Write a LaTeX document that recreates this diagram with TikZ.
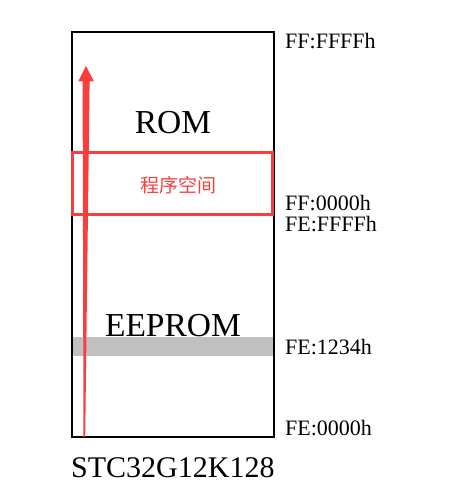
\documentclass[tikz,border=0pt]{standalone}
\usepackage{fontspec}
\setmainfont{Liberation Serif}
\newfontfamily\cjk{Noto Sans CJK SC}
\definecolor{redc}{RGB}{250,62,62}
\definecolor{bandgray}{RGB}{192,192,192}
\tikzset{
  addr/.style={anchor=base west,inner sep=0pt,text height=15pt,text depth=0pt,font=\fontsize{22}{22}\selectfont},
  region/.style={anchor=base,inner sep=0pt,font=\fontsize{33.5}{33.5}\selectfont},
}
\begin{document}
\begin{tikzpicture}[x=1pt,y=-1pt]
\useasboundingbox (0,0) rectangle (460,500);
% gray band
\fill[bandgray] (72,337) rectangle (274,356);
% outer memory box
\draw[line width=2pt] (72,32) rectangle (274,437);
% red program-space box
\draw[redc,line width=3pt] (72.5,152.5) rectangle (272.5,214.5);
% tapered arrow
\fill[redc] (83.5,437) -- (85.2,437) -- (89.6,81.5) -- (94,81.5) -- (86,66)
  -- (78.2,81.5) -- (82.6,81.5) -- cycle;
% texts
\node[region] (rom) at (173,133) {ROM};
\node[anchor=base,inner sep=0pt,text=redc,font=\cjk\fontsize{19}{19}\selectfont] (prog) at (178,192) {程序空间};
\node[region] (eeprom) at (173,336) {EEPROM};
\node[addr] (a1) at (285,49) {FF:FFFFh};
\node[addr] (a2) at (285,210.5) {FF:0000h};
\node[addr] (a3) at (285,231.5) {FE:FFFFh};
\node[addr] (a4) at (285,354) {FE:1234h};
\node[addr] (a5) at (285,435) {FE:0000h};
\node[anchor=base west,inner sep=0pt,font=\fontsize{30}{30}\selectfont] (chip) at (71,477) {STC32G12K128};
\end{tikzpicture}
\end{document}
